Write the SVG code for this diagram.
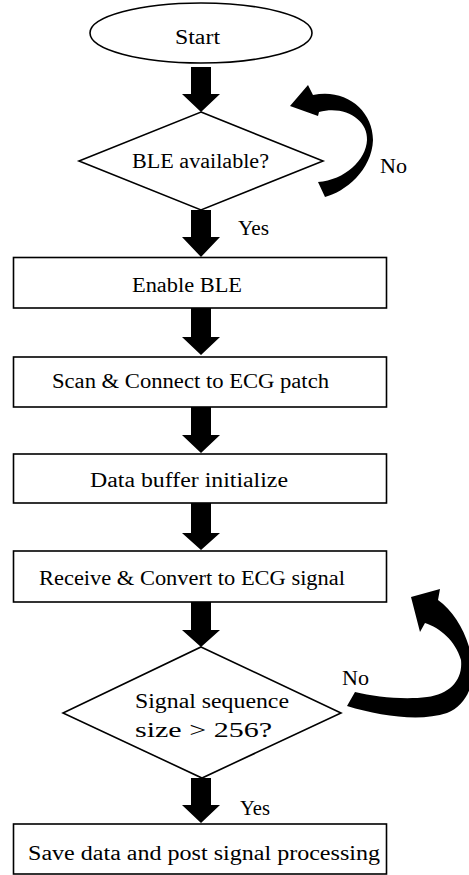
<svg xmlns="http://www.w3.org/2000/svg" width="469" height="875" viewBox="0 0 469 875">
  <style>
    .shape { fill: #ffffff; stroke: #000000; stroke-width: 1.6; }
    .flow { fill: #000000; stroke: none; }
    .label { font-family: "Liberation Serif", "DejaVu Serif", serif; font-size: 20.5px; fill: #000000; }
  </style>
  <rect x="0" y="0" width="469" height="875" fill="#ffffff"/>

  <!-- connectors: block arrows and curved loop-back arrows -->
  <g id="connectors">
    <path class="flow" d="M191,67 H211 V94 H220 L201,112 L182,94 H191 Z"/>
    <path class="flow" d="M191,210 H211 V237 H220 L201,257 L182,237 H191 Z"/>
    <path class="flow" d="M191,308 H211 V337 H220 L201,355 L182,337 H191 Z"/>
    <path class="flow" d="M191,407 H211 V435 H220 L201,453 L182,435 H191 Z"/>
    <path class="flow" d="M191,503 H211 V533 H220 L201,550 L182,533 H191 Z"/>
    <path class="flow" d="M191,602 H211 V630 H220 L201,647 L182,630 H191 Z"/>
    <path class="flow" d="M191,778 H211 V805 H220 L201,823 L182,805 H191 Z"/>
    <!-- loop back from "BLE available?" -->
    <path class="flow" d="M318,182 L325,197 C345,192 372,170 373,140 C373,110 345,88 313,95 L308,85 L290,106 L318,116 L319,112 C345,105 368,120 367,140 C366,160 345,180 318,182 Z"/>
    <!-- loop back from "Signal sequence size > 256?" -->
    <path class="flow" d="M355,692 L347,706 C380,716 420,722 447,713 C468,705 476,680 472,660 C468,635 455,612 438,600 L440,589 L411,597 L420,632 L425,623 C440,628 455,640 461,660 C463,680 450,694 427,697 C405,700 375,697 355,692 Z"/>
    <text class="label" x="238" y="235" textLength="31" lengthAdjust="spacingAndGlyphs">Yes</text>
    <text class="label" x="380" y="173" textLength="27" lengthAdjust="spacingAndGlyphs">No</text>
    <text class="label" x="342" y="685" textLength="27" lengthAdjust="spacingAndGlyphs">No</text>
    <text class="label" x="240" y="815" textLength="30" lengthAdjust="spacingAndGlyphs">Yes</text>
  </g>

  <g id="start">
    <ellipse class="shape" cx="201" cy="33" rx="111" ry="30"/>
    <text class="label" x="175" y="44" textLength="45" lengthAdjust="spacingAndGlyphs">Start</text>
  </g>

  <g id="ble-available">
    <polygon class="shape" points="201,112 323,161 201,210 79,161"/>
    <text class="label" x="132" y="168" textLength="137" lengthAdjust="spacingAndGlyphs">BLE available?</text>
  </g>

  <g id="enable-ble">
    <rect class="shape" x="13.5" y="257.5" width="373" height="50.5"/>
    <text class="label" x="132" y="292" textLength="110" lengthAdjust="spacingAndGlyphs">Enable BLE</text>
  </g>

  <g id="scan-connect">
    <rect class="shape" x="13.5" y="357" width="373" height="50"/>
    <text class="label" x="52" y="388" textLength="277" lengthAdjust="spacingAndGlyphs">Scan &amp; Connect to ECG patch</text>
  </g>

  <g id="buffer-init">
    <rect class="shape" x="13.5" y="454" width="373" height="49"/>
    <text class="label" x="90" y="487" textLength="198" lengthAdjust="spacingAndGlyphs">Data buffer initialize</text>
  </g>

  <g id="receive-convert">
    <rect class="shape" x="13.5" y="551" width="373" height="51"/>
    <text class="label" x="39" y="585" textLength="306" lengthAdjust="spacingAndGlyphs">Receive &amp; Convert to ECG signal</text>
  </g>

  <g id="sequence-check">
    <polygon class="shape" points="201,647 341,713 202,778 63,713"/>
    <text class="label" x="135" y="708" textLength="154" lengthAdjust="spacingAndGlyphs">Signal sequence</text>
    <text class="label" x="135" y="737" textLength="137" lengthAdjust="spacingAndGlyphs">size &gt; 256?</text>
  </g>

  <g id="save-process">
    <rect class="shape" x="13.5" y="824" width="373" height="50"/>
    <text class="label" x="28" y="860" textLength="352" lengthAdjust="spacingAndGlyphs">Save data and post signal processing</text>
  </g>
</svg>
